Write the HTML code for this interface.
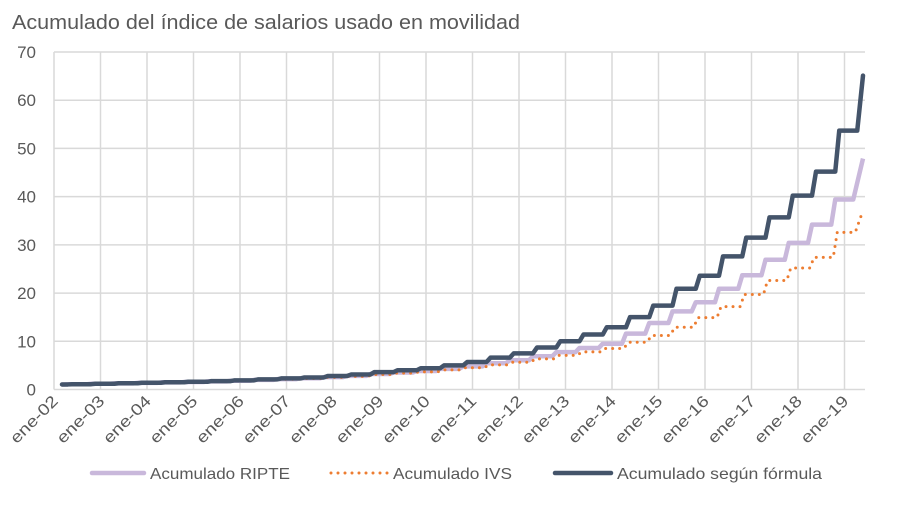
<!DOCTYPE html>
<html><head><meta charset="utf-8"><style>
html,body{margin:0;padding:0;background:#fff;}
svg{display:block;font-family:"Liberation Sans",sans-serif;}
</style></head><body>
<svg id="s" width="906" height="510" xmlns="http://www.w3.org/2000/svg">
<text x="12" y="29" font-size="20" fill="#595959" textLength="508" lengthAdjust="spacingAndGlyphs">Acumulado del índice de salarios usado en movilidad</text>
<g id="grid" stroke="#d9d9d9" stroke-width="1.5" fill="none"></g>
<g id="yl" font-size="17" fill="#595959" text-anchor="end"></g>
<g id="xl" font-size="16" fill="#595959" text-anchor="end"></g>
<g id="ser" fill="none" stroke-linejoin="round"></g>
<g font-size="16" fill="#595959">
<line x1="92" y1="473" x2="144" y2="473" stroke="#C9B8DB" stroke-width="4.5" stroke-linecap="round"/>
<text x="150" y="479" textLength="140" lengthAdjust="spacingAndGlyphs">Acumulado RIPTE</text>
<line x1="331" y1="473" x2="389" y2="473" stroke="#ED7D31" stroke-width="3" stroke-dasharray="0 7" stroke-linecap="round"/>
<text x="393" y="479" textLength="119" lengthAdjust="spacingAndGlyphs">Acumulado IVS</text>
<line x1="555" y1="473" x2="611" y2="473" stroke="#44546A" stroke-width="4.5" stroke-linecap="round"/>
<text x="617" y="479" textLength="205" lengthAdjust="spacingAndGlyphs">Acumulado según fórmula</text>
</g>
</svg>
<script>
var NS="http://www.w3.org/2000/svg";
function el(p,t,a,txt){var e=document.createElementNS(NS,t);for(var k in a)e.setAttribute(k,a[k]);if(txt!=null)e.textContent=txt;document.getElementById(p).appendChild(e);return e;}
var L=54,R=865,B=389.5,T=52,u=(B-T)/70;
for(var i=0;i<=7;i++){var y=B-i*10*u;el("grid","line",{x1:L,x2:R,y1:y,y2:y});el("yl","text",{x:36,y:y+6},String(i*10));}
for(var k=0;k<=17;k++){var x=L+46.5*k;el("grid","line",{x1:x,x2:x,y1:T,y2:B});
var yy=(k+2<10?"0":"")+(k+2);el("xl","text",{x:x+5,y:402,transform:"rotate(-45 "+(x+5)+" 402)",textLength:60,lengthAdjust:"spacingAndGlyphs"},"ene-"+yy);}
var F=[1.0,1.0,1.0,1.05,1.1,1.2,1.3,1.4,1.5,1.6,1.75,1.9,2.1,2.3,2.5,2.8,3.1,3.6,4.0,4.4,5.0,5.7,6.6,7.5,8.7,10.0,11.4,12.9,15.0,17.4,20.9,23.6,27.6,31.5,35.7,40.2,45.2,53.7];
var Rp=[9.5,11.6,13.8,16.2,18.1,20.9,23.7,26.9,30.4,34.2,39.4];
var Iv=[8.5,9.8,11.2,12.9,14.9,17.2,19.7,22.6,25.2,27.4,32.6];
var n=F.length;
function sx(j){return 628+23.25*(j-28);}
function build(vals,end,off){var start=0;for(var j=1;j<vals.length;j++){if(sx(j)+off<66)start=j;}
var d="M62 "+(B-vals[start]*u);
for(var j=start+1;j<vals.length;j++){var x=sx(j)+off;var y1=B-vals[j-1]*u,y2=B-vals[j]*u;
 d+=" L"+(x-2)+" "+y1+" L"+(x+2)+" "+y2;}
 d+=" L"+(sx(vals.length-1)+off+20)+" "+(B-vals[vals.length-1]*u)+" L863 "+(B-end*u);return d;}
function mk(recent){var a=[];var m=n-recent.length;for(var j=0;j<m;j++){var r=recent[0]/F[m];var t=j/m;a.push(F[j]*(1-(1-r)*t*t));}return a.concat(recent);}
var RP=mk(Rp),IV=mk(Iv);
el("ser","path",{d:build(RP,47.9,-4),stroke:"#C9B8DB","stroke-width":4.5});
el("ser","path",{d:build(IV,37.1,-2),stroke:"#ED7D31","stroke-width":3,"stroke-dasharray":"0 7","stroke-linecap":"round"});
el("ser","path",{d:build(F,65.1,0),stroke:"#44546A","stroke-width":4.5,"stroke-linecap":"round"});
</script>
</body></html>
